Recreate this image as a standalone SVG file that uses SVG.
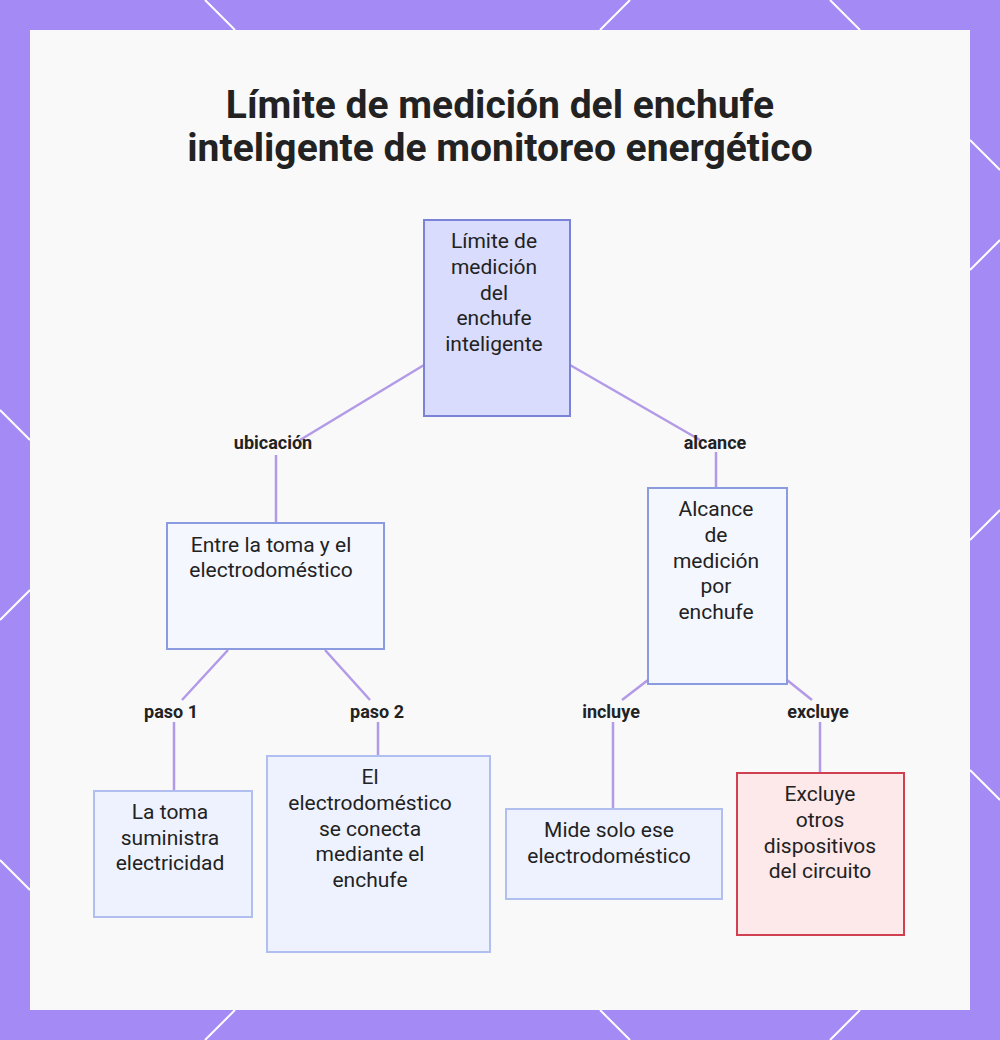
<svg xmlns="http://www.w3.org/2000/svg" width="1000" height="1040" viewBox="0 0 1000 1040">
<style>
text{font-family:Roboto,"Liberation Sans",sans-serif;fill:#222;text-anchor:middle}
.t{font-size:39px;font-weight:bold}
.n{font-size:21px}
.l{font-size:18px;font-weight:bold}
.c{fill:none;stroke:#b39ae8;stroke-width:2.5}
.fl{stroke:#fff;stroke-width:2}
</style>
<rect width="1000" height="1040" fill="#a48af5"/>
<g class="fl">
<line x1="205" y1="0" x2="235" y2="30"/><line x1="600" y1="30" x2="630" y2="0"/><line x1="830" y1="0" x2="860" y2="30"/>
<line x1="970" y1="140" x2="1000" y2="170"/><line x1="970" y1="270" x2="1000" y2="240"/><line x1="970" y1="540" x2="1000" y2="510"/><line x1="970" y1="770" x2="1000" y2="800"/>
<line x1="0" y1="410" x2="30" y2="440"/><line x1="0" y1="620" x2="30" y2="590"/><line x1="0" y1="860" x2="30" y2="890"/>
<line x1="205" y1="1040" x2="235" y2="1010"/><line x1="600" y1="1010" x2="630" y2="1040"/><line x1="830" y1="1040" x2="860" y2="1010"/>
</g>
<rect x="30" y="30" width="940" height="980" fill="#f9f9fa"/>
<text class="t" x="500" y="118">Límite de medición del enchufe</text>
<text class="t" x="500" y="161">inteligente de monitoreo energético</text>
<g id="connectors">
<path class="c" d="M424,365 L300,440 M276,455 V523"/>
<path class="c" d="M570,365 L700,440 M716,452 V488"/>
<path class="c" d="M228,650 L182,700 M174,722 V791"/>
<path class="c" d="M325,650 L370,700 M378,722 V756"/>
<path class="c" d="M648,680 L622,700 M613,722 V809"/>
<path class="c" d="M787,680 L812,700 M820,722 V773"/>
<text class="l" x="273" y="449">ubicación</text>
<text class="l" x="715" y="449">alcance</text>
<text class="l" x="171" y="718">paso 1</text>
<text class="l" x="377" y="718">paso 2</text>
<text class="l" x="611" y="718">incluye</text>
<text class="l" x="818" y="718">excluye</text>
</g>
<g id="root"><rect x="424" y="220" width="146" height="196" fill="#d9dcfd" stroke="#7b83d6" stroke-width="2"/>
<text class="n" x="494" y="248">Límite de</text><text class="n" x="494" y="274">medición</text><text class="n" x="494" y="300">del</text><text class="n" x="494" y="325">enchufe</text><text class="n" x="494" y="351">inteligente</text></g>
<g id="ubic"><rect x="167" y="523" width="217" height="126" fill="#f5f7ff" stroke="#8a9be0" stroke-width="2"/>
<text class="n" x="271" y="552">Entre la toma y el</text><text class="n" x="271" y="577">electrodoméstico</text></g>
<g id="alc"><rect x="648" y="488" width="139" height="196" fill="#f5f7ff" stroke="#8a9be0" stroke-width="2"/>
<text class="n" x="716" y="516">Alcance</text><text class="n" x="716" y="542">de</text><text class="n" x="716" y="568">medición</text><text class="n" x="716" y="593">por</text><text class="n" x="716" y="619">enchufe</text></g>
<g id="toma"><rect x="94" y="791" width="158" height="126" fill="#eef2ff" stroke="#b0bff0" stroke-width="2"/>
<text class="n" x="170" y="819">La toma</text><text class="n" x="170" y="845">suministra</text><text class="n" x="170" y="870">electricidad</text></g>
<g id="conecta"><rect x="267" y="756" width="223" height="196" fill="#eef2ff" stroke="#b0bff0" stroke-width="2"/>
<text class="n" x="370" y="784">El</text><text class="n" x="370" y="810">electrodoméstico</text><text class="n" x="370" y="836">se conecta</text><text class="n" x="370" y="861">mediante el</text><text class="n" x="370" y="887">enchufe</text></g>
<g id="mide"><rect x="506" y="809" width="216" height="90" fill="#eef2ff" stroke="#b0bff0" stroke-width="2"/>
<text class="n" x="609" y="837">Mide solo ese</text><text class="n" x="609" y="863">electrodoméstico</text></g>
<g id="excluye"><rect x="737" y="773" width="167" height="162" fill="#fde8ea" stroke="#d04050" stroke-width="2"/>
<text class="n" x="820" y="801">Excluye</text><text class="n" x="820" y="827">otros</text><text class="n" x="820" y="853">dispositivos</text><text class="n" x="820" y="878">del circuito</text></g>
</svg>
